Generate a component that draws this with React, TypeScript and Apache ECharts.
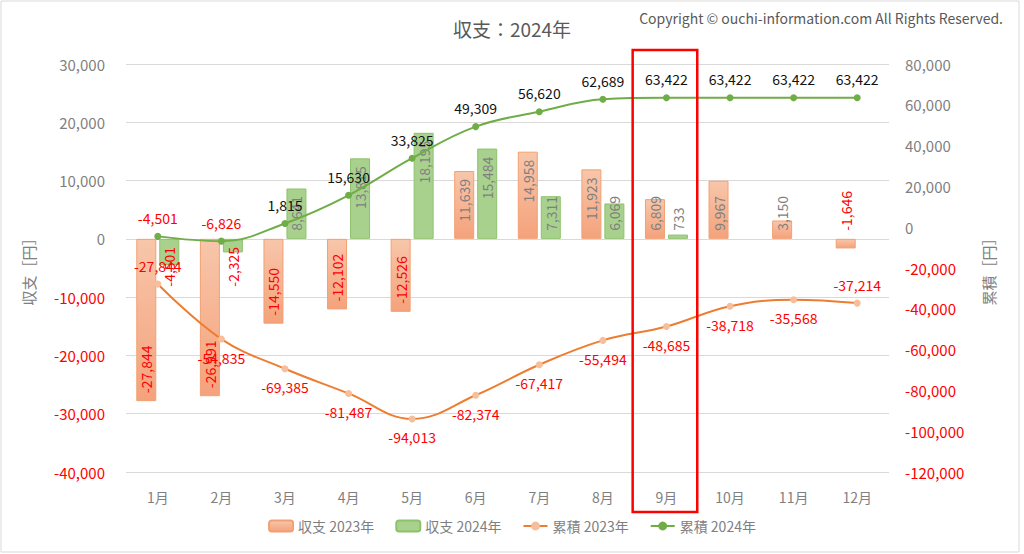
import React, { useEffect, useRef } from 'react';
import * as echarts from 'echarts';

const months = ['1月', '2月', '3月', '4月', '5月', '6月', '7月', '8月', '9月', '10月', '11月', '12月'];
const balance2023 = [-27844, -26991, -14550, -12102, -12526, 11639, 14958, 11923, 6809, 9967, 3150, -1646];
const balance2024: (number | null)[] = [-4501, -2325, 8641, 13815, 18195, 15484, 7311, 6069, 733, null, null, null];
const cumulative2023 = [-27844, -54835, -69385, -81487, -94013, -82374, -67417, -55494, -48685, -38718, -35568, -37214];
const cumulative2024 = [-4501, -6826, 1815, 15630, 33825, 49309, 56620, 62689, 63422, 63422, 63422, 63422];
const leftAxis = { min: -40000, max: 30000, interval: 10000 };
const rightAxis = { min: -120000, max: 80000, interval: 20000 };
const highlightMonth = '9月';
const titleText = '収支：2024年';
const copyrightText = 'Copyright © ouchi-information.com All Rights Reserved.';
const seriesNames = ['収支 2023年', '収支 2024年', '累積 2023年', '累積 2024年'];
const leftName = '収支［円］';
const rightName = '累積［円］';

const FONT = "'Noto Sans CJK JP', 'Noto Sans', sans-serif";
const GRAY = '#7f7f7f';
const RED = '#ff0000';
const fmt = (v: number) => v.toLocaleString('en-US');

// label placement rules for bars (style only)
const barLabelFor = (v: number | null, idx: number, exceptionsAbove: number[]) => {
  if (v === null) return undefined;
  const neg = v < 0;
  const big = Math.abs(v) >= 10000;
  let position: string;
  let align: string;
  if (neg && exceptionsAbove.includes(idx)) {
    position = 'top';
    align = 'left';
  } else if (big) {
    position = neg ? 'insideBottom' : 'insideTop';
    align = neg ? 'left' : 'right';
  } else {
    position = neg ? 'insideTop' : 'insideBottom';
    align = neg ? 'right' : 'left';
  }
  return {
    show: true,
    position,
    rotate: 90,
    align,
    verticalAlign: 'middle',
    distance: 8,
    color: neg ? RED : GRAY,
    fontSize: 14,
    fontFamily: FONT,
    formatter: () => fmt(v),
  };
};

const axisLabelRich = {
  pos: { color: GRAY, fontSize: 15, fontFamily: FONT },
  neg: { color: RED, fontSize: 15, fontFamily: FONT },
};
const axisFormatter = (v: number) => (v < 0 ? `{neg|${fmt(v)}}` : `{pos|${fmt(v)}}`);

export default function App() {
  const ref = useRef<HTMLDivElement>(null);
  useEffect(() => {
    document.body.style.margin = '0';
    if (!ref.current) return;
    const chart = echarts.init(ref.current, undefined, { renderer: 'svg' });
    const orangeGrad = new echarts.graphic.LinearGradient(0, 0, 0, 1, [
      { offset: 0, color: '#F8C6AA' },
      { offset: 1, color: '#F4A27C' },
    ]);
    const option: any = {
      animation: false,
      backgroundColor: '#ffffff',
      textStyle: { fontFamily: FONT },
      title: [
        {
          text: titleText,
          left: 'center',
          top: 14,
          textStyle: { fontSize: 19, color: '#595959', fontWeight: 'normal', fontFamily: FONT },
        },
        {
          text: copyrightText,
          right: 16,
          top: 6,
          textStyle: { fontSize: 14, color: '#595959', fontWeight: 'normal', fontFamily: FONT },
        },
      ],
      grid: { left: 126, right: 135, top: 64, bottom: 82, containLabel: false },
      legend: {
        bottom: 16,
        left: 'center',
        itemWidth: 24,
        itemHeight: 11,
        itemGap: 21,
        textStyle: { color: GRAY, fontSize: 14, fontFamily: FONT },
        data: seriesNames,
      },
      xAxis: {
        type: 'category',
        data: months,
        axisLine: { show: false },
        axisTick: { show: false },
        axisLabel: { color: GRAY, fontSize: 14, margin: 18, fontFamily: FONT },
      },
      yAxis: [
        {
          type: 'value',
          min: leftAxis.min,
          max: leftAxis.max,
          interval: leftAxis.interval,
          name: leftName,
          nameLocation: 'middle',
          nameRotate: 90,
          nameGap: 90,
          nameTextStyle: { color: GRAY, fontSize: 15, fontFamily: FONT },
          axisLine: { show: false },
          axisTick: { show: false },
          splitLine: { lineStyle: { color: '#d9d9d9', width: 1 } },
          axisLabel: { margin: 21, formatter: axisFormatter, rich: axisLabelRich },
        },
        {
          type: 'value',
          min: rightAxis.min,
          max: rightAxis.max,
          interval: rightAxis.interval,
          name: rightName,
          nameLocation: 'middle',
          nameRotate: 90,
          nameGap: 92,
          nameTextStyle: { color: GRAY, fontSize: 15, fontFamily: FONT },
          axisLine: { show: false },
          axisTick: { show: false },
          splitLine: { show: false },
          axisLabel: { margin: 16, formatter: axisFormatter, rich: axisLabelRich },
        },
      ],
      series: [
        {
          name: seriesNames[0],
          type: 'bar',
          yAxisIndex: 0,
          barWidth: 20,
          barGap: '15%',
          itemStyle: { color: orangeGrad, borderColor: '#F2A072', borderWidth: 1 },
          data: balance2023.map((v, i) => ({ value: v, label: barLabelFor(v, i, [11]) })),
          z: 2,
        },
        {
          name: seriesNames[1],
          type: 'bar',
          yAxisIndex: 0,
          barWidth: 20,
          itemStyle: { color: '#A9D18E', borderColor: '#8DC26B', borderWidth: 1 },
          data: balance2024.map((v, i) => (v === null ? null : { value: v, label: barLabelFor(v, i, []) })),
          z: 2,
        },
        {
          name: seriesNames[2],
          type: 'line',
          yAxisIndex: 1,
          smooth: 0.4,
          symbol: 'circle',
          symbolSize: 7,
          lineStyle: { color: '#ED7D31', width: 2 },
          itemStyle: { color: '#F6BE9A' },
          label: {
            show: true,
            position: 'bottom',
            distance: 8,
            color: RED,
            fontSize: 14,
            fontFamily: FONT,
            formatter: (p: any) => fmt(p.value),
          },
          data: cumulative2023.map((v, i) =>
            i === 0 || i === cumulative2023.length - 1 ? { value: v, label: { position: 'top' } } : v,
          ),
          z: 4,
        },
        {
          name: seriesNames[3],
          type: 'line',
          yAxisIndex: 1,
          smooth: 0.4,
          symbol: 'circle',
          symbolSize: 7,
          lineStyle: { color: '#70AD47', width: 2 },
          itemStyle: { color: '#70AD47' },
          label: {
            show: true,
            position: 'top',
            distance: 8,
            fontSize: 14,
            fontFamily: FONT,
            formatter: (p: any) => fmt(p.value),
          },
          data: cumulative2024.map((v) => ({ value: v, label: { color: v < 0 ? RED : '#111111' } })),
          z: 5,
        },
      ],
    };
    chart.setOption(option);

    // highlight box around the highlighted month, derived from the category axis
    const cx = chart.convertToPixel({ xAxisIndex: 0 }, highlightMonth) as number;
    const plotWidth = 1024 - 126 - 135;
    const band = plotWidth / months.length;
    chart.setOption({
      graphic: [
        {
          type: 'rect',
          shape: { x: 1, y: 1, width: 1018, height: 551 },
          style: { fill: 'none', stroke: '#d9d9d9', lineWidth: 1 },
          silent: true,
          z: 0,
        },
        {
          type: 'rect',
          shape: { x: cx - band / 2 - 2, y: 50, width: band + 1, height: 462 },
          style: { fill: 'none', stroke: '#ff0000', lineWidth: 2.5 },
          silent: true,
          z: 100,
        },
      ],
    });
    return () => chart.dispose();
  }, []);
  return <div ref={ref} style={{ width: 1024, height: 554 }} />;
}
